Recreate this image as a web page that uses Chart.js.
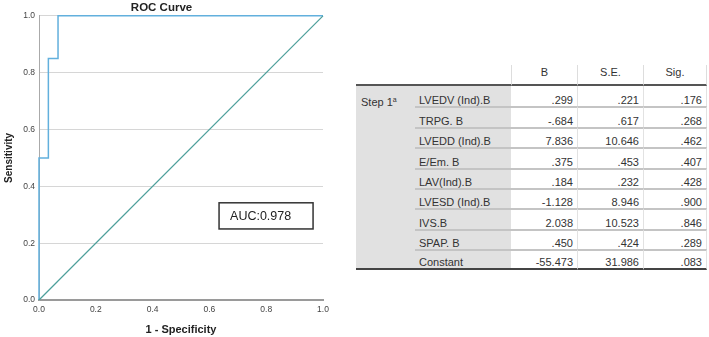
<!DOCTYPE html>
<html>
<head>
<meta charset="utf-8">
<script src="https://cdn.jsdelivr.net/npm/chart.js@4"></script>
<style>
  body { margin: 0; width: 709px; height: 337px; background: #fff; position: relative; overflow: hidden; font-family: "Liberation Sans", Arial, sans-serif; }
  #wrap { position: absolute; left: 0; top: 0; width: 340px; height: 337px; }
  #coef { position: absolute; left: 356px; top: 65px; width: 351px; table-layout: fixed; border-collapse: separate; border-spacing: 0; font-size: 11px; color: #333; }
  #coef th, #coef td { box-sizing: border-box; }
  #coef th { font-weight: normal; height: 21px; padding: 0 0 6px 0; line-height: 12px; vertical-align: bottom; text-align: center; border-bottom: 2px solid #555; }
  #coef th.num { border-left: 1px solid #ddd; }
  #coef th.last { border-right: 1px solid #ddd; }
  #coef td { height: 20.4px; padding: 0; line-height: 12px; vertical-align: bottom; white-space: nowrap; }
  #coef td.step { background: #e1e1e1; vertical-align: top; padding: 8px 0 0 5px; }
  #coef td.lab { background: #e1e1e1; padding-left: 4px; }
  #coef td.num { text-align: right; padding-right: 4px; }
  #coef td.mid { border-left: 1px solid #e2e2e2; }
  #coef td.last { border-right: 1px solid #e2e2e2; }
  #coef tr.sep td.lab, #coef tr.sep td.num { border-top: 2px solid #c4c4c4; }
  #coef tr.end td { border-bottom: 2px solid #444; }
  #coef sup { font-size: 7px; vertical-align: 4px; }
</style>
</head>
<body>
<div id="wrap"><canvas id="chart"></canvas></div>
<table id="coef"></table>
<script>
// ROC points (1 - specificity, sensitivity)
const rocFpr = [0, 0, 0.033, 0.033, 0.067, 0.067, 1];
const rocTpr = [0, 0.5, 0.5, 0.85, 0.85, 1, 1];
const refFpr = [0, 1];
const refTpr = [0, 1];
const axisTicks = [0, 0.2, 0.4, 0.6, 0.8, 1.0];
const aucText = "AUC:0.978";

// coefficients table
const columnHeads = ["B", "S.E.", "Sig."];
const stepLabel = "Step 1";
const rowLabels = ["LVEDV (Ind).B", "TRPG. B", "LVEDD (Ind).B", "E/Em. B", "LAV(Ind).B", "LVESD (Ind).B", "IVS.B", "SPAP. B", "Constant"];
const bValues = [".299", "-.684", "7.836", ".375", ".184", "-1.128", "2.038", ".450", "-55.473"];
const seValues = [".221", ".617", "10.646", ".453", ".232", "8.946", "10.523", ".424", "31.986"];
const sigValues = [".176", ".268", ".462", ".407", ".428", ".900", ".846", ".289", ".083"];

Chart.defaults.font.family = "'Liberation Sans', Arial, sans-serif";

const ctx = document.querySelector("#chart").getContext("2d");

const aucBox = {
    id: "aucBox",
    afterDatasetsDraw(c) {
        const xs = c.scales.x, ys = c.scales.y;
        const l = xs.getPixelForValue(0.634), r = xs.getPixelForValue(0.965);
        const t = ys.getPixelForValue(0.342), b = ys.getPixelForValue(0.25);
        const g = c.ctx;
        g.save();
        g.fillStyle = "#fff";
        g.fillRect(l, t, r - l, b - t);
        g.strokeStyle = "#333";
        g.lineWidth = 1.5;
        g.strokeRect(l, t, r - l, b - t);
        g.fillStyle = "#222";
        g.font = "12.5px 'Liberation Sans', Arial, sans-serif";
        g.textBaseline = "middle";
        g.fillText(aucText, l + 11, (t + b) / 2 + 0.5);
        g.restore();
    },
};

new Chart(ctx, {
    type: "scatter",
    data: {
        datasets: [
            {
                data: refFpr.map((v, i) => ({ x: v, y: refTpr[i] })),
                showLine: true,
                borderColor: "#4d9f9b",
                borderWidth: 1.2,
                pointRadius: 0,
                clip: false,
            },
            {
                data: rocFpr.map((v, i) => ({ x: v, y: rocTpr[i] })),
                showLine: true,
                borderColor: "#62b0dd",
                borderWidth: 1.5,
                pointRadius: 0,
                clip: false,
            },
        ],
    },
    options: {
        responsive: true,
        maintainAspectRatio: false,
        animation: false,
        devicePixelRatio: 1,
        layout: { padding: { left: 0, right: 17, top: 0, bottom: 0 } },
        plugins: {
            legend: { display: false },
            tooltip: { enabled: false },
            title: {
                display: true,
                text: "ROC Curve",
                color: "#222",
                font: { size: 11.5, weight: "bold" },
                padding: { top: 1, bottom: 1 },
            },
        },
        scales: {
            x: {
                type: "linear",
                min: 0,
                max: 1,
                afterBuildTicks: (s) => { s.ticks = axisTicks.map((v) => ({ value: v })); },
                afterFit: (s) => { s.height = 37; },
                grid: { display: false, drawTicks: false },
                border: { color: "#9a9a9a", width: 2 },
                ticks: {
                    color: "#444",
                    font: { size: 8.5 },
                    padding: 5,
                    maxRotation: 0,
                    callback: (v) => Number(v).toFixed(1),
                },
                title: {
                    display: true,
                    text: "1 - Specificity",
                    color: "#222",
                    font: { size: 11, weight: "bold" },
                    padding: { top: 1.5, bottom: 0 },
                },
            },
            y: {
                type: "linear",
                min: 0,
                max: 1,
                afterBuildTicks: (s) => { s.ticks = axisTicks.map((v) => ({ value: v })); },
                afterFit: (s) => { s.width = 39; },
                grid: { color: "#d6d6d6", drawTicks: false },
                border: { color: "#aaa", width: 1 },
                ticks: {
                    color: "#444",
                    font: { size: 8.5 },
                    padding: 4,
                    callback: (v) => Number(v).toFixed(1),
                },
                title: {
                    display: true,
                    text: "Sensitivity",
                    color: "#222",
                    font: { size: 10, weight: "bold" },
                    padding: { top: 3, bottom: 0 },
                },
            },
        },
    },
    plugins: [aucBox],
});

// build table
const table = document.querySelector("#coef");
let html = "<colgroup><col style='width:59px'><col style='width:96px'><col style='width:66px'><col style='width:66px'><col style='width:64px'></colgroup>";
html += "<tr><th></th><th></th>" + columnHeads.map((h, i) =>
    `<th class="num${i === columnHeads.length - 1 ? " last" : ""}">${h}</th>`).join("") + "</tr>";
rowLabels.forEach((lab, i) => {
    const cls = [i > 0 ? "sep" : "", i === rowLabels.length - 1 ? "end" : ""].join(" ");
    html += `<tr class="${cls}">`;
    if (i === 0) html += `<td class="step" rowspan="${rowLabels.length}" style="border-bottom:2px solid #444">${stepLabel}<sup>a</sup></td>`;
    html += `<td class="lab">${lab}</td>`;
    html += `<td class="num">${bValues[i]}</td>`;
    html += `<td class="num mid">${seValues[i]}</td>`;
    html += `<td class="num mid last">${sigValues[i]}</td>`;
    html += "</tr>";
});
table.innerHTML = html;
</script>
</body>
</html>
